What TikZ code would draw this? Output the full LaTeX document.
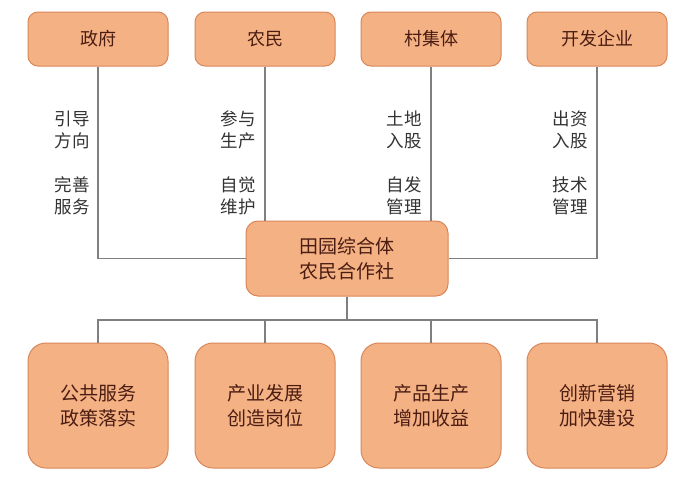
\documentclass[tikz,border=0pt]{standalone}
\usepackage{fontspec}
\setmainfont{Noto Sans CJK SC}
\definecolor{boxfill}{HTML}{F4B183}
\definecolor{boxborder}{HTML}{D9875A}
\definecolor{boxtext}{HTML}{4A1C12}
\definecolor{linegray}{HTML}{7F7F7F}
\definecolor{labeltext}{HTML}{333333}
\tikzset{
  topbox/.style={draw=boxborder, fill=boxfill, rounded corners=10pt, line width=1pt,
    text=boxtext, font=\fontsize{18}{24}\selectfont, align=center, inner sep=0pt,
    minimum width=140pt, minimum height=54pt},
  midbox/.style={topbox, minimum width=202pt, minimum height=75pt, rounded corners=12pt,
    font=\fontsize{19}{25}\selectfont},
  botbox/.style={topbox, minimum height=125pt, rounded corners=18pt,
    font=\fontsize{19}{25}\selectfont},
  sidelabel/.style={anchor=east, align=right, text=labeltext, inner sep=0pt,
    font=\fontsize{17.5}{22}\selectfont},
  conn/.style={draw=linegray, line width=1.3pt}
}
\begin{document}
\begin{tikzpicture}[x=1pt,y=-1pt]
\useasboundingbox (0,0) rectangle (693,482);
\fill[white] (0,0) rectangle (693,482);

\node[topbox] (gov) at (98,39) {政府};
\node[topbox] (farmer) at (265,39) {农民};
\node[topbox] (village) at (431,39) {村集体};
\node[topbox] (ent) at (597,39) {开发企业};

\node[midbox] (mid) at (347,258.5) {田园综合体\\农民合作社};

\node[botbox] (b1) at (98,405.5) {公共服务\\政策落实};
\node[botbox] (b2) at (265,405.5) {产业发展\\创造岗位};
\node[botbox] (b3) at (431,405.5) {产品生产\\增加收益};
\node[botbox] (b4) at (597,405.5) {创新营销\\加快建设};

\node[sidelabel] (l1a) at (90,130) {引导\\方向};
\node[sidelabel] (l1b) at (90,196) {完善\\服务};
\node[sidelabel] (l2a) at (256,130) {参与\\生产};
\node[sidelabel] (l2b) at (256,196) {自觉\\维护};
\node[sidelabel] (l3a) at (422,130) {土地\\入股};
\node[sidelabel] (l3b) at (422,196) {自发\\管理};
\node[sidelabel] (l4a) at (588,130) {出资\\入股};
\node[sidelabel] (l4b) at (588,196) {技术\\管理};

\coordinate (bus) at (347,320);

\begin{scope}[on background layer/.try]
\draw[conn] (gov.south) |- (mid.west);
\draw[conn] (farmer.south) -- (farmer.south |- mid.north);
\draw[conn] (village.south) -- (village.south |- mid.north);
\draw[conn] (ent.south) |- (mid.east);
\draw[conn] (mid.south) -- (bus);
\draw[conn] (b1.north) -- (b1.north |- bus) -- (b4.north |- bus) -- (b4.north);
\draw[conn] (b2.north) -- (b2.north |- bus);
\draw[conn] (b3.north) -- (b3.north |- bus);
\end{scope}
\end{tikzpicture}
\end{document}
